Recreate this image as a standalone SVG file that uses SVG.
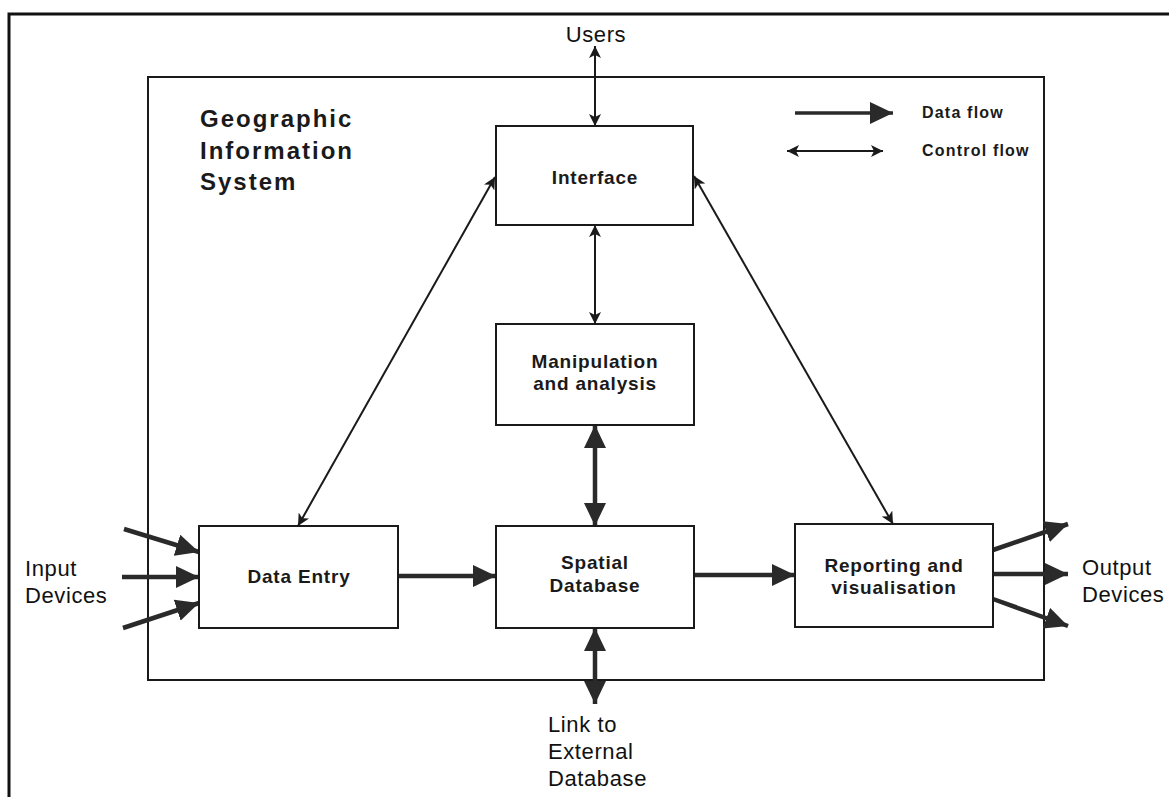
<svg xmlns="http://www.w3.org/2000/svg" width="1169" height="797" viewBox="0 0 1169 797">
<style>
.box{fill:#fff;stroke:#1a1a1a;stroke-width:2}
.frame{fill:none;stroke:#1a1a1a;stroke-width:2}
.lbl{font-family:"Liberation Sans",Arial,sans-serif;font-weight:bold;font-size:19px;letter-spacing:0.8px;fill:#1a1a1a;text-anchor:middle}
.ext{font-family:"Liberation Sans",Arial,sans-serif;font-size:22px;letter-spacing:0.6px;fill:#111}
.title{font-family:"Liberation Sans",Arial,sans-serif;font-weight:bold;font-size:24px;letter-spacing:2px;fill:#1a1a1a}
.leg{font-family:"Liberation Sans",Arial,sans-serif;font-weight:bold;font-size:16px;letter-spacing:1.2px;fill:#1a1a1a}
.data{stroke:#2a2a2a;stroke-width:4.5;fill:none;marker-end:url(#dh)}
.data2{stroke:#2a2a2a;stroke-width:4.5;fill:none;marker-start:url(#dh);marker-end:url(#dh)}
.ctrl{stroke:#1a1a1a;stroke-width:2;fill:none;marker-start:url(#ch);marker-end:url(#ch)}
</style>
<defs>
<marker id="dh" markerUnits="userSpaceOnUse" markerWidth="24" markerHeight="22" refX="23" refY="11" orient="auto-start-reverse">
<path d="M0,0 L23,11 L0,22 z" fill="#2a2a2a"/>
</marker>
<marker id="ch" markerUnits="userSpaceOnUse" markerWidth="13" markerHeight="12" refX="12" refY="6" orient="auto-start-reverse">
<path d="M0,0 L12,6 L0,12 L3,6 z" fill="#1a1a1a"/>
</marker>
</defs>
<rect width="1169" height="797" fill="#fff"/>
<rect x="9" y="14" width="1170" height="800" fill="none" stroke="#111" stroke-width="3"/>
<rect id="gis" class="frame" x="148" y="77" width="896" height="603"/>
<g id="title">
<text class="title" x="200" y="127">Geographic</text>
<text class="title" x="200" y="159">Information</text>
<text class="title" x="200" y="190">System</text>
</g>
<g id="legend">
<line class="data" x1="795" y1="113" x2="893" y2="113" style="stroke-width:3.5"/>
<text class="leg" x="922" y="118">Data flow</text>
<line class="ctrl" x1="787" y1="151" x2="883" y2="151"/>
<text class="leg" x="922" y="156">Control flow</text>
</g>
<g id="connectors">
<line class="ctrl" x1="595" y1="46" x2="595" y2="126"/>
<line class="ctrl" x1="595" y1="225" x2="595" y2="324"/>
<line class="data2" x1="595" y1="425" x2="595" y2="526"/>
<line class="data2" x1="595" y1="628" x2="595" y2="704"/>
<line class="ctrl" x1="298" y1="526" x2="495" y2="177"/>
<line class="ctrl" x1="694" y1="176" x2="893" y2="524"/>
<line class="data" x1="398" y1="576" x2="496" y2="576"/>
<line class="data" x1="694" y1="575" x2="795" y2="575"/>
<line class="data" x1="124" y1="529" x2="199" y2="552"/>
<line class="data" x1="122" y1="577" x2="199" y2="577"/>
<line class="data" x1="123" y1="628" x2="199" y2="603"/>
<line class="data" x1="993" y1="550" x2="1068" y2="524"/>
<line class="data" x1="993" y1="574" x2="1068" y2="574"/>
<line class="data" x1="993" y1="599" x2="1068" y2="626"/>
</g>
<g id="interface">
<rect class="box" x="496" y="126" width="197" height="99"/>
<text class="lbl" x="595" y="184">Interface</text>
</g>
<g id="manipulation">
<rect class="box" x="496" y="324" width="198" height="101"/>
<text class="lbl" x="595" y="368">Manipulation</text>
<text class="lbl" x="595" y="390">and analysis</text>
</g>
<g id="data-entry">
<rect class="box" x="199" y="526" width="199" height="102"/>
<text class="lbl" x="299" y="583">Data Entry</text>
</g>
<g id="spatial-database">
<rect class="box" x="496" y="526" width="198" height="102"/>
<text class="lbl" x="595" y="569">Spatial</text>
<text class="lbl" x="595" y="592">Database</text>
</g>
<g id="reporting">
<rect class="box" x="795" y="524" width="198" height="103"/>
<text class="lbl" x="894" y="572">Reporting and</text>
<text class="lbl" x="894" y="594">visualisation</text>
</g>
<g id="users"><text class="ext" x="596" y="42" text-anchor="middle">Users</text></g>
<g id="input-devices">
<text class="ext" x="25" y="576">Input</text>
<text class="ext" x="25" y="603">Devices</text>
</g>
<g id="output-devices">
<text class="ext" x="1082" y="575">Output</text>
<text class="ext" x="1082" y="602">Devices</text>
</g>
<g id="external-db">
<text class="ext" x="548" y="732">Link to</text>
<text class="ext" x="548" y="759">External</text>
<text class="ext" x="548" y="786">Database</text>
</g>
</svg>
